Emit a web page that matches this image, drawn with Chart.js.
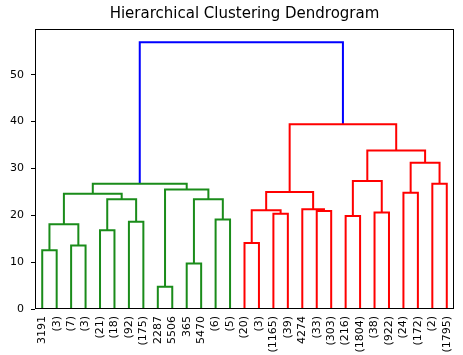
<!DOCTYPE html>
<html>
<head>
<meta charset="utf-8">
<script src="https://cdn.jsdelivr.net/npm/chart.js@4/dist/chart.umd.min.js"></script>
<style>
html,body{margin:0;padding:0;background:#fff;}
#wrap{width:463px;height:355px;position:relative;}
</style>
</head>
<body>
<div id="wrap"><canvas id="c" width="463" height="355"></canvas></div>
<script>
// Leaf labels in display order
const leafLabels = ['3191','(3)','(7)','(3)','(21)','(18)','(92)','(175)','2287','5506','365','5470','(6)','(5)',
  '(20)','(3)','(1165)','(39)','4274','(33)','(303)','(216)','(1804)','(38)','(922)','(24)','(172)','(2)','(1795)'];
// Linkage (scipy style): node ids 0..28 are leaves, merge k creates node 29+k
const linkLeft   = [8, 10, 0, 2, 14, 4, 31, 6, 12, 21, 16, 23, 19, 33, 18, 34, 30, 35, 25, 42, 29, 46, 27, 38, 47, 52, 48, 50];
const linkRight  = [9, 11, 1, 3, 15, 5, 32, 7, 13, 22, 17, 24, 20, 39, 41, 36, 37, 44, 26, 43, 45, 49, 28, 40, 51, 53, 54, 55];
const linkHeight = [4.75, 9.7, 12.55, 13.55, 14.1, 16.8, 18.1, 18.6, 19.1, 19.85, 20.35, 20.6, 20.9, 21.05, 21.3,
  23.4, 23.4, 24.6, 24.8, 24.95, 25.5, 26.7, 26.7, 27.3, 31.2, 33.8, 39.4, 56.9];
const yTicks = [0, 10, 20, 30, 40, 50];

const nLeaves = leafLabels.length;
const maxH = Math.max(...linkHeight);
const colorThreshold = 0.7 * maxH;
const GREEN = '#1a8c1a', RED = '#ff0000', BLUE = '#0000ff';

// node positions computed from the linkage
const nodeX = [], nodeH = [], nodeMinLeaf = [];
for (let i = 0; i < nLeaves; i++) { nodeX.push(5 + 10 * i); nodeH.push(0); nodeMinLeaf.push(i); }
const datasets = [];
for (let k = 0; k < linkHeight.length; k++) {
  const a = linkLeft[k], b = linkRight[k], h = linkHeight[k];
  nodeX.push((nodeX[a] + nodeX[b]) / 2);
  nodeH.push(h);
  nodeMinLeaf.push(Math.min(nodeMinLeaf[a], nodeMinLeaf[b]));
  let col;
  if (h > colorThreshold) col = BLUE;
  else col = nodeMinLeaf[a] < 14 ? GREEN : RED;
  datasets.push({
    data: [{x: nodeX[a], y: nodeH[a]}, {x: nodeX[a], y: h}, {x: nodeX[b], y: h}, {x: nodeX[b], y: nodeH[b]}],
    borderColor: col, borderWidth: 2, pointRadius: 0, fill: false, tension: 0,
    borderJoinStyle: 'miter', borderCapStyle: 'butt'
  });
}

const boxPlugin = {
  id: 'box',
  afterDatasetsDraw(chart) {
    const {ctx, chartArea: ca} = chart;
    ctx.save();
    ctx.strokeStyle = '#000';
    ctx.lineWidth = 1;
    ctx.strokeRect(Math.round(ca.left) + 0.5, Math.round(ca.top) + 0.5, Math.round(ca.right - ca.left) - 1, Math.round(ca.bottom - ca.top) - 1);
    ctx.restore();
  }
};

new Chart(document.getElementById('c'), {
  type: 'line',
  data: { datasets },
  options: {
    responsive: false,
    animation: false,
    layout: { padding: { left: 0, right: 9, top: 0, bottom: 0 } },
    plugins: {
      legend: { display: false },
      tooltip: { enabled: false },
      title: {
        display: true, text: 'Hierarchical Clustering Dendrogram', fullSize: false,
        color: '#000', font: { family: 'DejaVu Sans', size: 15, weight: 'normal', lineHeight: 1.2 },
        padding: { top: 5, bottom: 6 }
      }
    },
    scales: {
      x: {
        type: 'linear', min: 0, max: nLeaves * 10,
        grid: { display: false, drawTicks: false },
        border: { display: false },
        afterBuildTicks: (s) => { s.ticks = leafLabels.map((_, i) => ({ value: 5 + 10 * i })); },
        afterFit: (s) => { s.height = 46; s.paddingLeft = 0; s.paddingRight = 0; },
        ticks: {
          autoSkip: false, maxRotation: 90, minRotation: 90, padding: 7,
          color: '#000', font: { family: 'DejaVu Sans', size: 11 },
          callback: (v) => leafLabels[Math.round((v - 5) / 10)]
        }
      },
      y: {
        type: 'linear', min: 0, max: maxH * 1.05,
        grid: { drawOnChartArea: false, drawTicks: true, tickLength: 4, color: '#000' },
        border: { display: false },
        afterBuildTicks: (s) => { s.ticks = yTicks.map(v => ({ value: v })); },
        afterFit: (s) => { s.width = 35; s.paddingTop = 0; s.paddingBottom = 0; },
        ticks: { padding: 7, color: '#000', font: { family: 'DejaVu Sans', size: 11 } }
      }
    }
  },
  plugins: [boxPlugin]
});
</script>
</body>
</html>
